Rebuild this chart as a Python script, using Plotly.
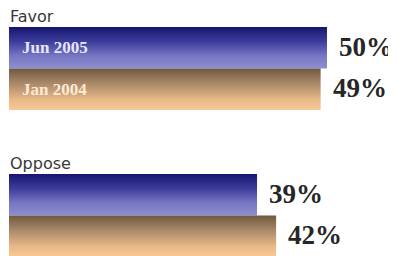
import plotly.graph_objects as go

# ---- data ----
groups = ["Favor", "Oppose"]
series = ["Jun 2005", "Jan 2004"]
jun_2005 = [50, 39]
jan_2004 = [49, 42]
value_labels_jun = ["50%", "39%"]
value_labels_jan = ["49%", "42%"]

# ---- layout helpers ----
group_top = [0.0, 3.54]       # y position (axis units) of each group's first bar
bar_h = 1.0
blue_scale = [[0.0, "#16166f"], [0.35, "#3c3c9c"], [0.7, "#7777c4"], [1.0, "#8e8ed2"]]
tan_scale = [[0.0, "#6e5840"], [0.35, "#a88868"], [0.75, "#e8b888"], [1.0, "#f8c994"]]

fig = go.Figure()

def add_bar(val, top, scale, name):
    bot = top + bar_h
    fig.add_trace(go.Scatter(
        x=[0, val, val, 0, 0],
        y=[top, top, bot, bot, top],
        mode="lines",
        line=dict(width=0),
        fill="toself",
        fillgradient=dict(type="vertical", colorscale=scale, start=top, stop=bot),
        name=name, showlegend=False, hoverinfo="skip",
    ))

val_font = dict(family="Liberation Serif", size=27, color="#262626")
annotations = []
for gi, g in enumerate(groups):
    t = group_top[gi]
    add_bar(jun_2005[gi], t, blue_scale, series[0])
    add_bar(jan_2004[gi], t + bar_h, tan_scale, series[1])
    # group label
    annotations.append(dict(x=0, y=t, xref="x", yref="y", text=g, showarrow=False,
                            xanchor="left", yanchor="bottom", xshift=0, yshift=0,
                            borderpad=0,
                            font=dict(family="DejaVu Sans", size=16, color="#383838")))
    # value labels
    annotations.append(dict(x=jun_2005[gi], y=t + bar_h / 2, xref="x", yref="y",
                            text="<b>" + value_labels_jun[gi] + "</b>", showarrow=False,
                            xanchor="left", yanchor="middle", xshift=10, yshift=1,
                            font=val_font))
    annotations.append(dict(x=jan_2004[gi], y=t + 1.5 * bar_h, xref="x", yref="y",
                            text="<b>" + value_labels_jan[gi] + "</b>", showarrow=False,
                            xanchor="left", yanchor="middle", xshift=10, yshift=1,
                            font=val_font))

# series labels inside the first group's bars
annotations.append(dict(x=0, y=group_top[0] + bar_h / 2, xref="x", yref="y",
                        text="<b>" + series[0] + "</b>", showarrow=False,
                        xanchor="left", yanchor="middle", xshift=11,
                        font=dict(family="Liberation Serif", size=17, color="#e6e6f6")))
annotations.append(dict(x=0, y=group_top[0] + 1.5 * bar_h, xref="x", yref="y",
                        text="<b>" + series[1] + "</b>", showarrow=False,
                        xanchor="left", yanchor="middle", xshift=11,
                        font=dict(family="Liberation Serif", size=17, color="#fbead4")))

# the page body has an 8px default margin, so the figure is sized to fill the rest
fig.update_layout(
    width=388, height=248,
    margin=dict(l=0, r=0, t=0, b=0),
    paper_bgcolor="white", plot_bgcolor="white",
    xaxis=dict(range=[-0.157, 60.85], visible=False, fixedrange=True),
    yaxis=dict(range=[5.518, -0.458], visible=False, fixedrange=True),
    annotations=annotations,
    showlegend=False,
)

fig.write_html("out.html")
